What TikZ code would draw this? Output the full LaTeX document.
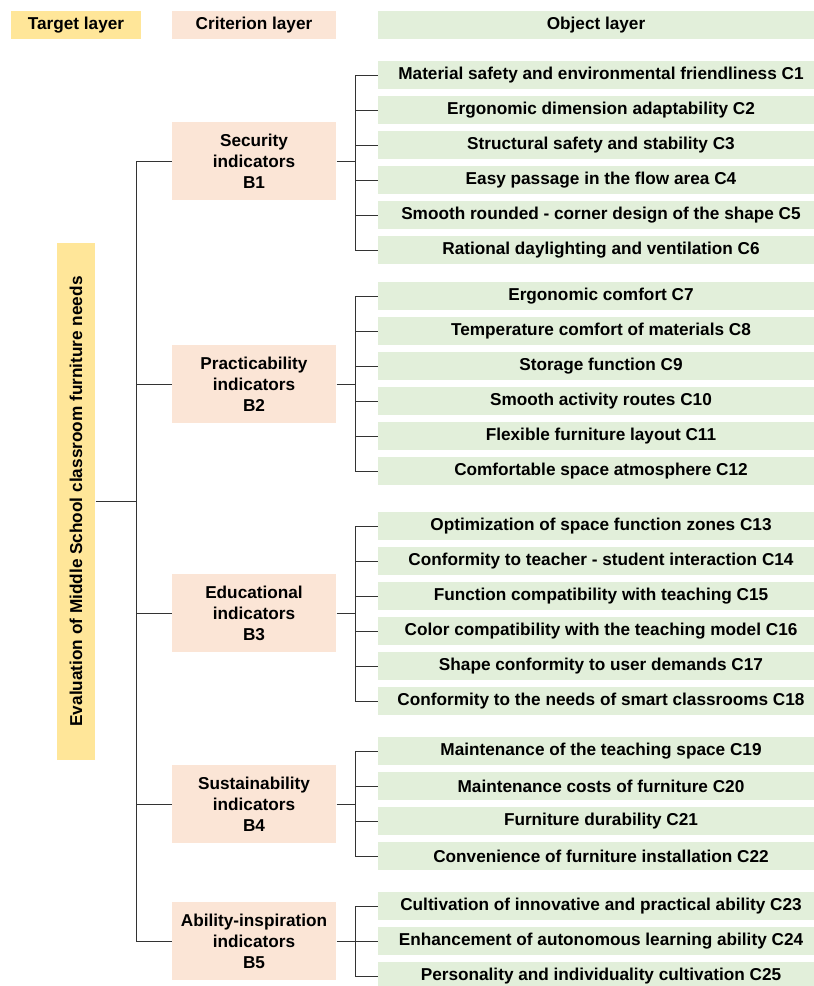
\documentclass[tikz,border=0pt]{standalone}
\usepackage{fontspec}
\setmainfont{Liberation Sans}
\definecolor{tgtfill}{HTML}{FFE699}
\definecolor{crifill}{HTML}{FBE5D6}
\definecolor{objfill}{HTML}{E2EFDA}
\begin{document}
\begin{tikzpicture}[x=1pt,y=-1pt,line width=1pt,
    every node/.style={font=\fontsize{17.2}{21}\selectfont\bfseries,inner sep=0pt},
    head/.style={minimum height=28pt},
    tgt/.style={fill=tgtfill},
    cri/.style={fill=crifill,minimum width=164pt,minimum height=78pt,align=center},
    obj/.style={fill=objfill,minimum width=446pt,minimum height=28pt},
    link/.style={draw=black!80}]
    \clip (0,0) rectangle (814,986);
    % headers
    \node[head,tgt,minimum width=130pt] (htgt) at (76,25) {Target layer};
    \node[head,fill=crifill,minimum width=164pt] (hcri) at (254,25) {Criterion layer};
    \node[head,fill=objfill,minimum width=436pt] (hobj) at (596,25) {Object layer};
    % target layer
    \node[tgt,rotate=90,minimum width=517pt,minimum height=38pt] (tgt) at (76,501.5) {Evaluation of Middle School classroom furniture needs};
    % criterion layer
    \node[cri] (b1) at (254,161) {Security\\indicators\\B1};
    \node[cri] (b2) at (254,384) {Practicability\\indicators\\B2};
    \node[cri] (b3) at (254,613) {Educational\\indicators\\B3};
    \node[cri] (b4) at (254,804) {Sustainability\\indicators\\B4};
    \node[cri] (b5) at (254,941) {Ability-inspiration\\indicators\\B5};
    % object layer
    \node[obj] (c1) at (601,75) {Material safety and environmental friendliness C1};
    \node[obj] (c2) at (601,110) {Ergonomic dimension adaptability C2};
    \node[obj] (c3) at (601,145) {Structural safety and stability C3};
    \node[obj] (c4) at (601,180) {Easy passage in the flow area C4};
    \node[obj] (c5) at (601,215) {Smooth rounded - corner design of the shape C5};
    \node[obj] (c6) at (601,250) {Rational daylighting and ventilation C6};
    \node[obj] (c7) at (601,296) {Ergonomic comfort C7};
    \node[obj] (c8) at (601,331) {Temperature comfort of materials C8};
    \node[obj] (c9) at (601,366) {Storage function C9};
    \node[obj] (c10) at (601,401) {Smooth activity routes C10};
    \node[obj] (c11) at (601,436) {Flexible furniture layout C11};
    \node[obj] (c12) at (601,471) {Comfortable space atmosphere C12};
    \node[obj] (c13) at (601,526) {Optimization of space function zones C13};
    \node[obj] (c14) at (601,561) {Conformity to teacher - student interaction C14};
    \node[obj] (c15) at (601,596) {Function compatibility with teaching C15};
    \node[obj] (c16) at (601,631) {Color compatibility with the teaching model C16};
    \node[obj] (c17) at (601,666) {Shape conformity to user demands C17};
    \node[obj] (c18) at (601,701) {Conformity to the needs of smart classrooms C18};
    \node[obj] (c19) at (601,751) {Maintenance of the teaching space C19};
    \node[obj] (c20) at (601,786) {Maintenance costs of furniture C20};
    \node[obj] (c21) at (601,821) {Furniture durability C21};
    \node[obj] (c22) at (601,856) {Convenience of furniture installation C22};
    \node[obj] (c23) at (601,906) {Cultivation of innovative and practical ability C23};
    \node[obj] (c24) at (601,941) {Enhancement of autonomous learning ability C24};
    \node[obj] (c25) at (601,976) {Personality and individuality cultivation C25};
    % trunk
    \coordinate (trunk) at (136,0);
    \coordinate (fork) at (355,0);
    \draw[link] (tgt.south) -- (tgt.south -| trunk);
    \draw[link] (b1.west -| trunk) -- (b5.west -| trunk);
    \foreach \b in {b1,b2,b3,b4,b5}
        \draw[link] (\b.west -| trunk) -- (\b.west);
    % brackets
    \foreach \b/\first/\last in {b1/c1/c6,b2/c7/c12,b3/c13/c18,b4/c19/c22,b5/c23/c25}
        \draw[link] (\b.east) -- (\b.east -| fork) (\first.west -| fork) -- (\last.west -| fork);
    \foreach \c in {1,...,25}
        \draw[link] (c\c.west -| fork) -- (c\c.west);
\end{tikzpicture}
\end{document}
